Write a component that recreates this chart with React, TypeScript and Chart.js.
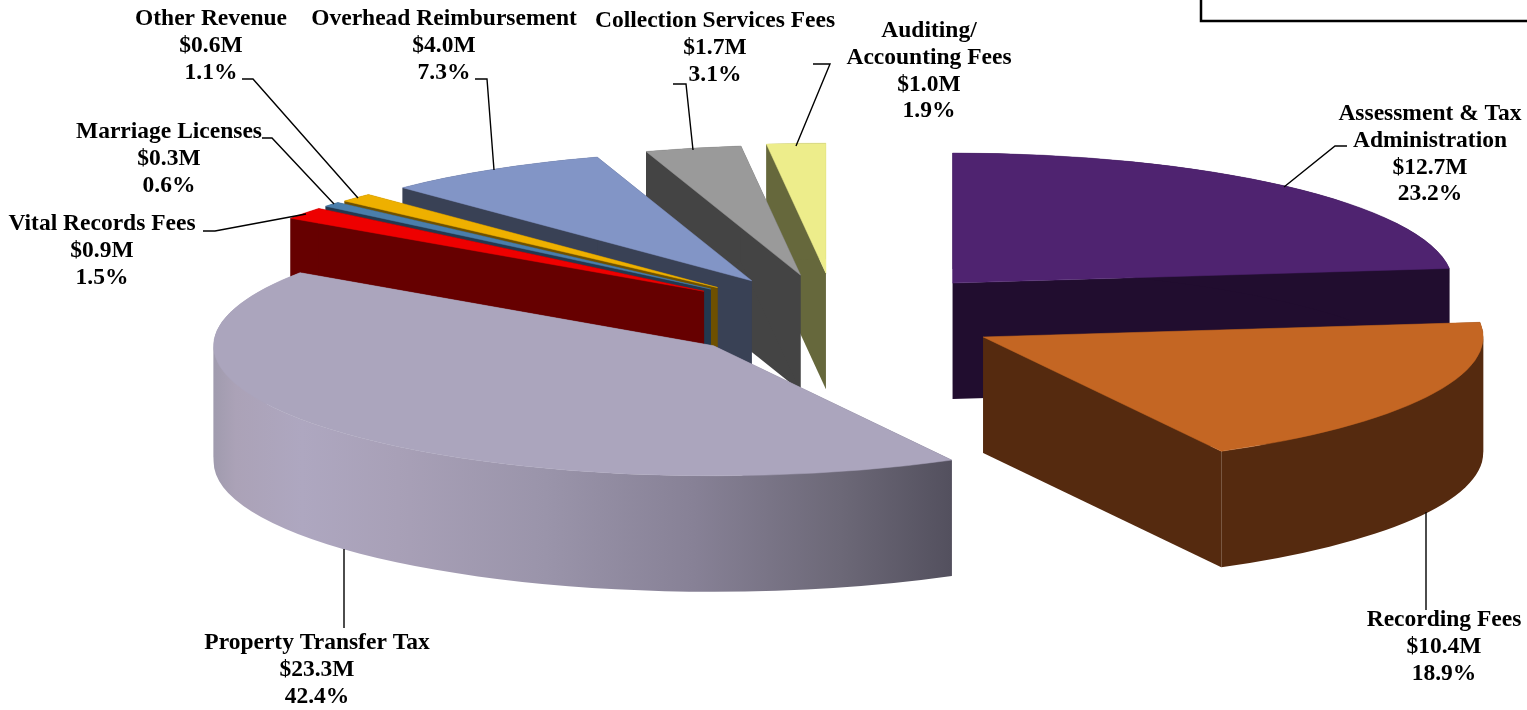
import React, { useEffect, useRef } from "react";
import { Chart, registerables } from "chart.js";

Chart.register(...registerables);

const categories = [
  ["Assessment & Tax", "Administration"],
  ["Recording Fees"],
  ["Property Transfer Tax"],
  ["Vital Records Fees"],
  ["Marriage Licenses"],
  ["Other Revenue"],
  ["Overhead Reimbursement"],
  ["Collection Services Fees"],
  ["Auditing/", "Accounting Fees"],
];
const amounts = [12.7, 10.4, 23.3, 0.9, 0.3, 0.6, 4.0, 1.7, 1.0];
const shares = [23.2, 18.9, 42.4, 1.5, 0.6, 1.1, 7.3, 3.1, 1.9];

const faceColors = ["#4f2370", "#c46623", "#aba5bd", "#ee0000", "#4a7eab", "#eeb000", "#8295c6", "#9a9a9a", "#eded8b"];
const wallColors = ["#210d2f", "#552a0f", "", "#660000", "#23384f", "#6e5000", "#394155", "#444444", "#66683c"];
const explode = [175, 166, 165, 165, 165, 164, 163, 165, 169];
const drawOrder = [0, 1, 8, 7, 6, 5, 4, 3, 2];

const TILT = 0.26;
const DEPTH = 116;
const RADIUS = 500;

const propertyWallStops: [number, string][] = [
  [0, "#a09bae"],
  [0.03, "#aba2b7"],
  [0.12, "#aea7c0"],
  [0.25, "#a8a0b7"],
  [0.45, "#9a94aa"],
  [0.65, "#878196"],
  [0.85, "#6c6877"],
  [1, "#53505e"],
];

const labelCentres = [1430, 1444, 317, 102, 169, 211, 444, 715, 929];
const labelFirstLines = [114, 620, 643, 224, 132, 19, 19, 21, 31];
const LINE_HEIGHT = 26.8;

const leaders: [number, number][][] = [
  [[1347, 146], [1335, 146], [1284, 187]],
  [[1426, 512], [1426, 610]],
  [[344, 549], [344, 628]],
  [[203, 231], [215, 231], [306, 214]],
  [[262, 138], [272, 138], [334, 204]],
  [[242, 79], [253, 79], [358, 198]],
  [[475, 79], [487, 79], [494, 170]],
  [[673, 84], [686, 84], [693, 150]],
  [[813, 64], [830, 64], [796, 146]],
];
const framePath: [number, number][] = [[1201, 0], [1201, 21], [1527, 21]];

function wallFill(ctx: CanvasRenderingContext2D, i: number, ax: number, R: number, endX: number) {
  if (wallColors[i]) return wallColors[i];
  const g = ctx.createLinearGradient(ax - R, 0, endX, 0);
  propertyWallStops.forEach(([p, c]) => g.addColorStop(p, c));
  return g;
}

// Angle ranges of the rim between its left and right silhouette points.
function rimRanges(a0: number, a1: number) {
  const cuts = [a0];
  for (let k = Math.ceil(a0 / Math.PI); k * Math.PI < a1; k++) {
    if (k * Math.PI > a0) cuts.push(k * Math.PI);
  }
  cuts.push(a1);
  return cuts.slice(1).map((c, i) => [cuts[i], c]);
}

const pie3d = {
  id: "pie3d",
  beforeDatasetDraw(chart: any) {
    const ctx: CanvasRenderingContext2D = chart.ctx;
    const arcs = chart.getDatasetMeta(0).data;
    drawOrder.forEach((i) => {
      const arc = arcs[i];
      const { x, y, startAngle: a0, endAngle: a1, outerRadius: R } = arc;
      const d = arc.options.offset;
      const mid = (a0 + a1) / 2;
      const ax = x + d * Math.cos(mid);
      const ay = y + d * Math.sin(mid) * TILT;
      const px = (a: number) => ax + R * Math.cos(a);
      const py = (a: number) => ay + R * Math.sin(a) * TILT;

      ctx.save();
      ctx.fillStyle = wallFill(ctx, i, ax, R, px(a0));
      [a0, a1].forEach((a) => {
        ctx.beginPath();
        ctx.moveTo(ax, ay);
        ctx.lineTo(px(a), py(a));
        ctx.lineTo(px(a), py(a) + DEPTH);
        ctx.lineTo(ax, ay + DEPTH);
        ctx.closePath();
        ctx.fill();
      });
      rimRanges(a0, a1).forEach(([s, e]) => {
        ctx.beginPath();
        ctx.ellipse(ax, ay, R, R * TILT, 0, s, e, false);
        ctx.ellipse(ax, ay + DEPTH, R, R * TILT, 0, e, s, true);
        ctx.closePath();
        ctx.fill();
      });
      ctx.fillStyle = arc.options.backgroundColor;
      ctx.strokeStyle = arc.options.backgroundColor;
      ctx.lineWidth = 0.5;
      ctx.beginPath();
      ctx.moveTo(ax, ay);
      ctx.ellipse(ax, ay, R, R * TILT, 0, a0, a1, false);
      ctx.closePath();
      ctx.fill();
      ctx.stroke();
      ctx.restore();
    });
    return false;
  },
  afterDraw(chart: any) {
    const ctx: CanvasRenderingContext2D = chart.ctx;
    ctx.save();
    ctx.strokeStyle = "#000";
    ctx.lineWidth = 1.4;
    leaders.forEach((pts) => {
      ctx.beginPath();
      pts.forEach(([px, py], k) => (k ? ctx.lineTo(px, py) : ctx.moveTo(px, py)));
      ctx.stroke();
    });
    ctx.lineWidth = 2.5;
    ctx.beginPath();
    framePath.forEach(([px, py], k) => (k ? ctx.lineTo(px, py) : ctx.moveTo(px, py)));
    ctx.stroke();

    ctx.fillStyle = "#000";
    ctx.font = 'bold 23.5px "Liberation Serif"';
    ctx.textAlign = "center";
    ctx.textBaseline = "middle";
    categories.forEach((name, i) => {
      const lines = [...name, `$${amounts[i].toFixed(1)}M`, `${shares[i].toFixed(1)}%`];
      lines.forEach((t, k) => ctx.fillText(t, labelCentres[i], labelFirstLines[i] + k * LINE_HEIGHT));
    });
    ctx.restore();
  },
};

export default function App() {
  const ref = useRef<HTMLCanvasElement>(null);
  useEffect(() => {
    const chart = new Chart(ref.current as HTMLCanvasElement, {
      type: "pie",
      data: {
        labels: categories.map((c) => c.join(" ")),
        datasets: [
          {
            data: shares,
            backgroundColor: faceColors,
            borderWidth: 0,
            offset: explode,
          },
        ],
      },
      options: {
        responsive: false,
        animation: false,
        radius: RADIUS,
        layout: { padding: { left: 145, bottom: 76 } },
        plugins: { legend: { display: false }, tooltip: { enabled: false } },
      },
      plugins: [pie3d],
    } as any);
    return () => chart.destroy();
  }, []);
  return (
    <div style={{ position: "absolute", left: 0, top: 0, width: 1527, height: 710, overflow: "hidden", background: "#fff" }}>
      <canvas ref={ref} width={1527} height={710} style={{ display: "block" }} />
    </div>
  );
}
